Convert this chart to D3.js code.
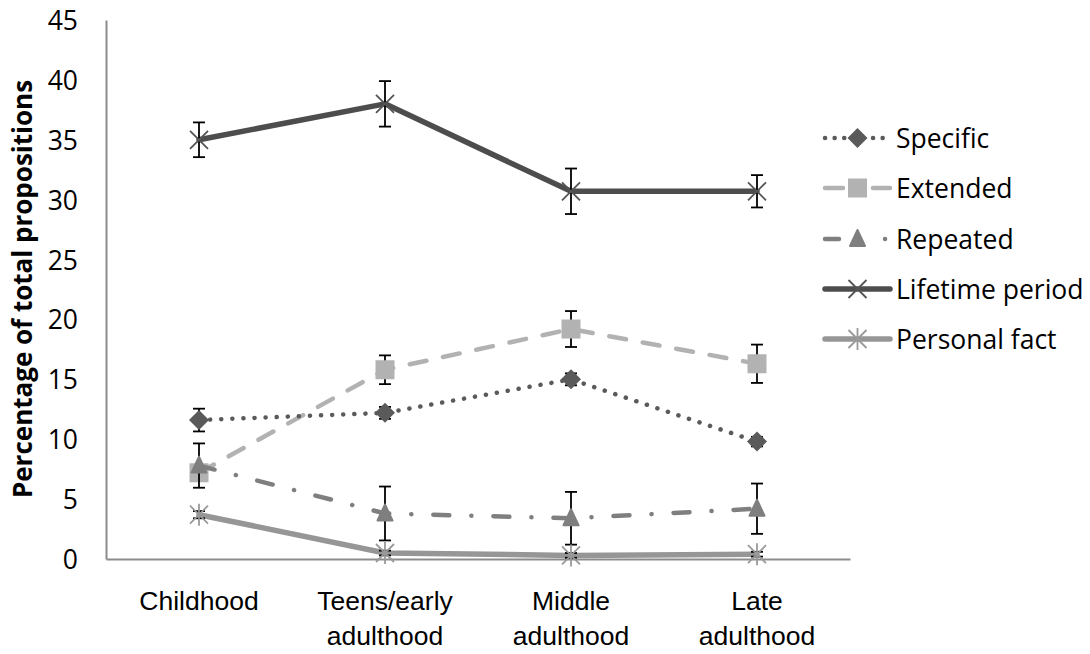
<!DOCTYPE html>
<html>
<head>
<meta charset="utf-8">
<script src="https://cdn.jsdelivr.net/npm/d3@7"></script>
<style>
  html, body { margin: 0; padding: 0; background: #fff; }
  svg { display: block; font-family: "Open Sans", Lato, sans-serif; }
</style>
</head>
<body>
<svg id="chart" width="1090" height="654"></svg>
<script>
// Life periods on the x axis
const categories = ["Childhood", "Teens/early adulthood", "Middle adulthood", "Late adulthood"];
const categoryLines = [["Childhood"], ["Teens/early", "adulthood"], ["Middle", "adulthood"], ["Late", "adulthood"]];
const yTicks = [0, 5, 10, 15, 20, 25, 30, 35, 40, 45];

// Mean percentage per period, and the half-width of each error bar
const specific = [11.6, 12.2, 15.0, 9.8];
const specificErr = [0.95, 0.5, 0.5, 0.4];
const extended = [7.2, 15.8, 19.2, 16.3];
const extendedErr = [0.6, 1.2, 1.5, 1.6];
const repeated = [7.8, 3.8, 3.4, 4.2];
const repeatedErr = [1.85, 2.25, 2.2, 2.1];
const lifetime = [35.0, 38.0, 30.7, 30.7];
const lifetimeErr = [1.45, 1.9, 1.9, 1.35];
const personal = [3.7, 0.5, 0.3, 0.4];
const personalErr = [0.3, 0.2, 0.2, 0.2];

const seriesNames = ["Specific", "Extended", "Repeated", "Lifetime period", "Personal fact"];

const series = [
  { name: seriesNames[0], values: specific, err: specificErr, color: "#5a5a5a", width: 4.5, dash: "0.1,11", marker: "diamond", legendDash: "0.1,9.5" },
  { name: seriesNames[1], values: extended, err: extendedErr, color: "#b2b2b2", width: 4.5, dash: "17,17", marker: "square", legendDash: "18,30" },
  { name: seriesNames[2], values: repeated, err: repeatedErr, color: "#7f7f7f", width: 4.5, dash: "16,22,0.1,22", marker: "triangle", legendDash: "14,46,0.1,40" },
  { name: seriesNames[3], values: lifetime, err: lifetimeErr, color: "#4d4d4d", width: 5.5, dash: null, marker: "x", legendDash: null },
  { name: seriesNames[4], values: personal, err: personalErr, color: "#969696", width: 5.5, dash: null, marker: "star", legendDash: null }
];

const svg = d3.select("#chart");
const plotLeft = 106, plotRight = 850, plotTop = 20, plotBottom = 559;
const fontSize = 26.5;

const x = d3.scaleBand().domain(categories).range([plotLeft, plotRight]);
const y = d3.scaleLinear().domain([0, 45]).range([plotBottom, plotTop]);
const cx = c => x(c) + x.bandwidth() / 2;

// Axes
const yAxis = svg.append("g").attr("transform", `translate(${plotLeft},0)`)
  .call(d3.axisLeft(y).tickValues(yTicks).tickSize(0).tickPadding(28));
yAxis.select(".domain").attr("stroke", "#8c8c8c").attr("stroke-width", 2);
yAxis.selectAll("text").attr("font-size", fontSize).attr("fill", "#000")
  .attr("font-family", "'Open Sans', sans-serif").attr("dy", "0.36em");

const xAxis = svg.append("g").attr("transform", `translate(0,${plotBottom})`)
  .call(d3.axisBottom(x).tickSize(0).tickFormat(""));
xAxis.select(".domain").attr("stroke", "#8c8c8c").attr("stroke-width", 2);

xAxis.selectAll(".tick").each(function(d, i) {
  const t = d3.select(this).append("text")
    .attr("fill", "#000").attr("font-size", fontSize).attr("text-anchor", "middle");
  categoryLines[i].forEach((line, j) => {
    t.append("tspan").attr("x", 0).attr("y", 51 + j * 35).text(line);
  });
});

// Y axis title
svg.append("text")
  .attr("transform", `translate(32,289) rotate(-90)`)
  .attr("text-anchor", "middle")
  .attr("font-size", 26).attr("font-weight", "bold")
  .text("Percentage of total propositions");

// Marker shapes
function drawMarker(g, type, px, py, color) {
  if (type === "diamond") {
    const r = 10;
    g.append("path").attr("d", `M${px},${py - r}L${px + r},${py}L${px},${py + r}L${px - r},${py}Z`).attr("fill", color);
  } else if (type === "square") {
    const s = 19;
    g.append("rect").attr("x", px - s / 2).attr("y", py - s / 2).attr("width", s).attr("height", s).attr("fill", color);
  } else if (type === "triangle") {
    g.append("path").attr("d", `M${px},${py - 9}L${px + 7.5},${py + 7}L${px - 7.5},${py + 7}Z`).attr("fill", color)
      .attr("stroke", color).attr("stroke-width", 2).attr("stroke-linejoin", "round");
  } else if (type === "x") {
    const r = 9;
    g.append("path").attr("d", `M${px - r},${py - r}L${px + r},${py + r}M${px - r},${py + r}L${px + r},${py - r}`)
      .attr("stroke", "#555").attr("stroke-width", 1.8).attr("fill", "none");
  } else if (type === "star") {
    const r = 9;
    g.append("path").attr("d", `M${px - r},${py - r}L${px + r},${py + r}M${px - r},${py + r}L${px + r},${py - r}M${px},${py - r - 2}L${px},${py + r + 2}`)
      .attr("stroke", "#999").attr("stroke-width", 1.8).attr("fill", "none");
  }
}

const plot = svg.append("g");
const line = d3.line().x((d, i) => cx(categories[i])).y(d => y(d));

// Stacking order of the series
const order = [1, 0, 2, 4, 3];
order.forEach(si => {
  const s = series[si];
  const g = plot.append("g");
  g.append("path").datum(s.values)
    .attr("d", line)
    .attr("fill", "none")
    .attr("stroke", s.color)
    .attr("stroke-width", s.width)
    .attr("stroke-linecap", "round")
    .attr("stroke-linejoin", "round")
    .attr("stroke-dasharray", s.dash);
  // Error bars
  s.values.forEach((v, i) => {
    const px = cx(categories[i]);
    const y1 = y(v + s.err[i]), y2 = y(v - s.err[i]);
    const eg = g.append("g").attr("stroke", "#000").attr("stroke-width", 1.8);
    eg.append("line").attr("x1", px).attr("x2", px).attr("y1", y1).attr("y2", y2);
    eg.append("line").attr("x1", px - 6).attr("x2", px + 6).attr("y1", y1).attr("y2", y1);
    eg.append("line").attr("x1", px - 6).attr("x2", px + 6).attr("y1", y2).attr("y2", y2);
  });
  s.values.forEach((v, i) => drawMarker(g, s.marker, cx(categories[i]), y(v), s.color));
});

// Legend
const legend = svg.append("g");
const legendY = [138, 188, 239, 289, 339];
series.forEach((s, i) => {
  const ly = legendY[i];
  const g = legend.append("g");
  const x0 = 825, x1 = 890;
  g.append("line").attr("x1", x0).attr("x2", x1).attr("y1", ly).attr("y2", ly)
    .attr("stroke", s.color).attr("stroke-width", s.width)
    .attr("stroke-linecap", "round")
    .attr("stroke-dasharray", s.legendDash);
  drawMarker(g, s.marker, (x0 + x1) / 2, ly, s.color);
  g.append("text").attr("x", 896).attr("y", ly).attr("dy", "0.36em")
    .attr("font-size", fontSize).attr("fill", "#000").text(s.name);
});
</script>
</body>
</html>
